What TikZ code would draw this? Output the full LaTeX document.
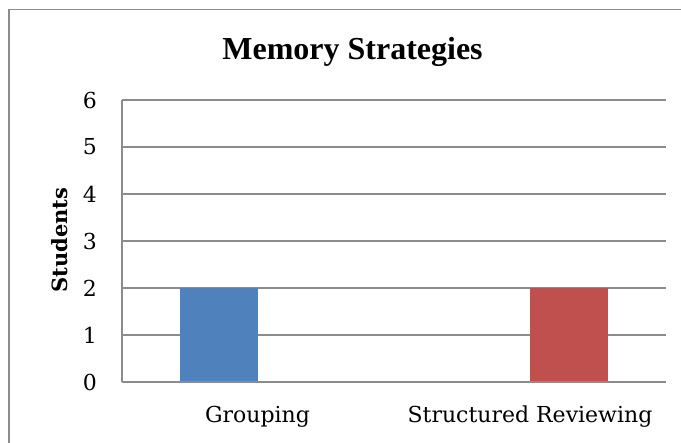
\documentclass[tikz,border=0pt]{standalone}
\usepackage{fontspec}
\setmainfont{DejaVu Serif}
\newfontfamily\titlefont{Liberation Serif}
\definecolor{gridgray}{HTML}{8C8C8C}
\definecolor{framegray}{HTML}{8C8C8C}
\definecolor{barblue}{HTML}{4F81BD}
\definecolor{barred}{HTML}{C0504D}
\begin{document}
\begin{tikzpicture}[x=1pt,y=-1pt,
  gridline/.style={draw=gridgray,line width=1.4pt},
  ticklab/.style={anchor=east,inner sep=0pt,font=\fontsize{22}{26}\selectfont},
  catlab/.style={anchor=base,inner sep=0pt,font=\fontsize{22}{26}\selectfont},
  bar/.style={draw=none}]
\useasboundingbox (0,0) rectangle (681,443);
\fill[white] (0,0) rectangle (681,443);
% outer frame
\draw[draw=framegray,line width=1.3pt] (9,445) -- (9,9.5) -- (683,9.5);
% title
\node[anchor=base,inner sep=0pt,font=\titlefont\bfseries\fontsize{32}{36}\selectfont] (title) at (352.5,60) {Memory Strategies};
% gridlines and tick labels
\foreach \k in {0,...,6}{
  \coordinate (gl\k) at (122,{382-47*\k});
  \coordinate (gr\k) at (666,{382-47*\k});
  \draw[gridline] (gl\k) -- (gr\k);
  \node[ticklab] (t\k) at (97,{382-47*\k}) {\k};
}
% bars
\fill[barblue] (180,382) rectangle (258,288);
\fill[barred] (530,382) rectangle (608,288);
% axes
\draw[gridline] (gl6) -- (gl0);
\draw[gridline] (gl0) -- (gr0);
% axis title
\node[rotate=90,anchor=center,inner sep=0pt,font=\bfseries\fontsize{21}{24}\selectfont] (ytitle) at (60,240) {Students};
% category labels
\node[catlab] (c1) at (257.5,423) {Grouping};
\node[catlab] (c2) at (530,423) {Structured Reviewing};
\end{tikzpicture}
\end{document}
